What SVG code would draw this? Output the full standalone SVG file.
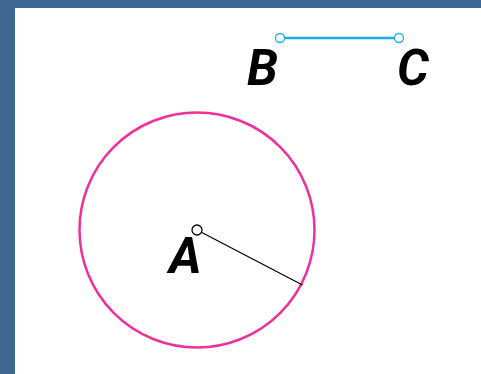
<svg xmlns="http://www.w3.org/2000/svg" width="481" height="374" viewBox="0 0 481 374">
<style>
.lbl{font-family:Roboto,"Liberation Sans",sans-serif;font-style:italic;font-weight:bold;font-size:50px;fill:#000}
.pt{fill:#fff;stroke-width:1.3}
</style>
<rect x="0" y="0" width="481" height="374" fill="#fff"/>
<rect x="0" y="0" width="481" height="8" fill="#3e6892"/>
<rect x="0" y="0" width="15" height="374" fill="#3e6892"/>
<g id="connectors">
<circle cx="197" cy="230" r="117.5" fill="none" stroke="#f0309a" stroke-width="2.5"/>
<line x1="197" y1="230" x2="302.5" y2="285" stroke="#000" stroke-width="1.2"/>
<line x1="280" y1="38" x2="399" y2="38" stroke="#1aaee6" stroke-width="2.5"/>
</g>
<g id="A">
<circle class="pt" cx="197" cy="230" r="5" stroke="#000"/>
<text class="lbl" x="169" y="273">A</text>
</g>
<g id="B">
<circle class="pt" cx="280" cy="38" r="4.5" stroke="#1aaee6"/>
<text class="lbl" x="247" y="85">B</text>
</g>
<g id="C">
<circle class="pt" cx="399" cy="38" r="4.5" stroke="#1aaee6"/>
<text class="lbl" x="397" y="85">C</text>
</g>
</svg>
